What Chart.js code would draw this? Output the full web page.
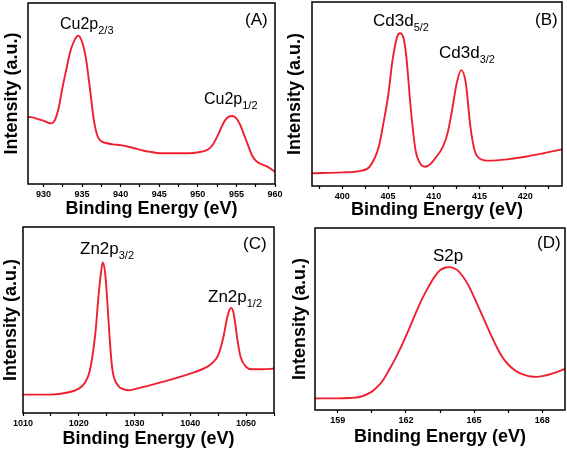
<!DOCTYPE html>
<html>
<head>
<meta charset="utf-8">
<script src="https://cdn.jsdelivr.net/npm/chart.js@4.4.0/dist/chart.umd.min.js"></script>
<style>
body{margin:0;background:#fff;}
#wrap{position:relative;width:567px;height:450px;overflow:hidden;}
#wrap canvas{position:absolute;}
</style>
</head>
<body>
<div id="wrap">
<canvas id="cA" width="283" height="225" style="left:0;top:0"></canvas>
<canvas id="cB" width="284" height="225" style="left:283px;top:0"></canvas>
<canvas id="cC" width="283" height="225" style="left:0;top:225px"></canvas>
<canvas id="cD" width="284" height="225" style="left:283px;top:225px"></canvas>
</div>
<script>
// (A) Cu 2p
const cuEnergy=[928,929,930,931,931.5,932,932.5,933,933.5,934,934.5,935,935.5,936,936.5,937,937.5,938,939,940,941,942,943,944,945,946,947,948,949,950,951,951.5,952,952.5,953,953.5,954,954.5,955,955.5,956,956.5,957,957.5,958,959,960];
const cuIntensity=[37.2,36.3,35.0,33.5,35.4,42.5,54,64,73.5,79.2,81.9,78.6,69.5,53.5,36.3,26.5,23.6,22.8,21.9,21.5,20.6,19.5,18.4,17.7,17.0,17,17,17,17,17.5,18.4,19.7,22.1,26.1,30.8,35.0,37.2,37.6,36.3,32.6,27.1,21.5,16.0,12.9,11.4,9.6,6.8];
const cuTicks=[930,935,940,945,950,955,960];

// (B) Cd 3d
const cdEnergy=[396.7,400,402,403,404,404.5,405,405.5,406,406.3,406.7,407,407.5,408,408.5,409,409.5,410,411,411.5,412,412.5,413,413.5,414,414.5,415,416,418,420,422,424];
const cdIntensity=[6.9,7.4,8.2,10.5,21.4,34.2,48.5,68.5,81.1,83.0,80.3,70.3,41.3,19.6,12.3,10.5,11.4,14.1,21.4,28.6,41.3,55.8,63.0,55.8,32.2,18.6,15.0,13.8,14.5,15.9,17.8,19.9];
const cdTicks=[400,405,410,415,420];

// (C) Zn 2p
const znEnergy=[1010,1015,1018,1020,1021,1022,1023,1023.5,1024,1024.3,1024.7,1025,1025.5,1026,1027,1028,1029,1030,1035,1040,1043,1044,1045,1046,1046.5,1047,1047.3,1047.7,1048,1048.5,1049,1050,1051,1053,1055];
const znIntensity=[9.9,9.9,11,13.1,15.8,23,43.6,61.6,75.9,81,75.9,65.2,41.8,23.9,14.9,12.8,12.2,12.8,16.7,21.2,24.8,27.1,31.1,41.8,49.9,55.3,56.5,54.4,49,38.2,30.2,24.8,23.5,23.5,23.9];
const znTicks=[1010,1020,1030,1040,1050];

// (D) S 2p
const sEnergy=[158,159,159.5,160,160.5,160.75,161,161.25,161.5,161.75,162,162.25,162.5,162.75,163,163.25,163.5,163.75,163.9,164.1,164.25,164.5,164.75,165,165.25,165.5,165.75,166,166.25,166.5,166.75,167,167.25,167.5,167.75,168,168.5,169];
const sIntensity=[6.4,6.4,6.6,7.3,10.1,12.8,16.5,21.8,27.4,33.7,40.6,47.9,55.2,62,67.8,73,76.8,78.3,78.5,78,77,73.5,68.5,62,55,48,41,34.5,29,25,22.2,20.3,19.2,18.4,18.2,18.6,20.3,22.6];
const sTicks=[159,162,165,168];

const FONT='"Liberation Sans", Arial, sans-serif';

const framePlugin={
  id:'frame',
  afterDatasetsDraw(chart,args,opts){
    const ctx=chart.ctx, a=chart.chartArea;
    ctx.save();
    ctx.strokeStyle='#000';
    ctx.lineWidth=1.5;
    ctx.strokeRect(a.left,a.top,a.right-a.left,a.bottom-a.top);
    ctx.fillStyle='#000';
    ctx.textBaseline='alphabetic';
    (opts.labels||[]).forEach(l=>{
      ctx.font=(l.size||17)+'px '+FONT;
      ctx.fillText(l.text,l.x,l.y);
      if(l.sub){
        const w=ctx.measureText(l.text).width;
        ctx.font='11px '+FONT;
        ctx.fillText(l.sub,l.x+w,l.y+5);
      }
    });
    ctx.restore();
  }
};

function makePanel(id,energy,intensity,ticks,cfg){
  const step=ticks[1]-ticks[0];
  let all=[];
  ticks.forEach(t=>{all.push(t);all.push(t-step/2);all.push(t+step/2);});
  all=[...new Set(all)].filter(v=>v>=cfg.min-1e-6&&v<=cfg.max+1e-6).sort((p,q)=>p-q);
  new Chart(document.getElementById(id),{
    type:'line',
    data:{datasets:[{
      data:energy.map((e,i)=>({x:e,y:intensity[i]})),
      borderColor:'#f01f30',
      borderWidth:1.9,
      pointRadius:0,
      cubicInterpolationMode:'monotone',
      fill:false
    }]},
    options:{
      responsive:false,
      animation:false,
      layout:{padding:{top:cfg.top,right:cfg.right,left:0,bottom:0}},
      plugins:{legend:{display:false},tooltip:{enabled:false},frame:{labels:cfg.labels}},
      scales:{
        x:{
          type:'linear',min:cfg.min,max:cfg.max,
          afterBuildTicks:s=>{s.ticks=all.map(v=>({value:v}));},
          afterFit:s=>{s.height=cfg.xh;s.paddingLeft=0;s.paddingRight=0;},
          grid:{display:true,drawOnChartArea:false,tickLength:3,color:'#000',tickWidth:1.2},
          border:{display:false},
          ticks:{autoSkip:false,maxRotation:0,padding:2,color:'#000',
            font:{family:FONT,size:9,weight:'bold'},
            callback:v=>ticks.includes(v)?String(v):''},
          title:{display:true,text:'Binding Energy (eV)',color:'#000',
            font:{family:FONT,size:18,weight:'bold',lineHeight:1.2},
            padding:{top:0,bottom:cfg.tb}}
        },
        y:{
          min:0,max:100,
          afterFit:s=>{s.width=cfg.yw;s.paddingTop=0;s.paddingBottom=0;},
          grid:{display:false},
          border:{display:false},
          ticks:{display:false},
          title:{display:true,text:'Intensity (a.u.)',color:'#000',
            font:{family:FONT,size:18,weight:'bold',lineHeight:1.2},
            padding:{top:cfg.tp,bottom:0}}
        }
      }
    },
    plugins:[framePlugin]
  });
}

makePanel('cA',cuEnergy,cuIntensity,cuTicks,{min:928,max:960,top:3,right:8,yw:28,xh:41,tb:5,tp:1,
  labels:[{text:'Cu2p',sub:'2/3',x:60,y:29,size:16},{text:'Cu2p',sub:'1/2',x:204,y:104,size:16},{text:'(A)',x:245,y:25}]});
makePanel('cB',cdEnergy,cdIntensity,cdTicks,{min:396.7,max:424,top:2,right:5,yw:29,xh:39,tb:4,tp:1,
  labels:[{text:'Cd3d',sub:'5/2',x:90,y:26},{text:'Cd3d',sub:'3/2',x:156,y:58},{text:'(B)',x:252,y:25}]});
makePanel('cC',znEnergy,znIntensity,znTicks,{min:1010,max:1055,top:2,right:9,yw:23,xh:37,tb:0,tp:0,
  labels:[{text:'Zn2p',sub:'3/2',x:80,y:29},{text:'Zn2p',sub:'1/2',x:208,y:77},{text:'(C)',x:243,y:24}]});
makePanel('cD',sEnergy,sIntensity,sTicks,{min:158,max:169,top:3,right:2,yw:32,xh:40,tb:2,tp:6,
  labels:[{text:'S2p',x:150,y:36},{text:'(D)',x:254,y:23}]});
</script>
</body>
</html>
